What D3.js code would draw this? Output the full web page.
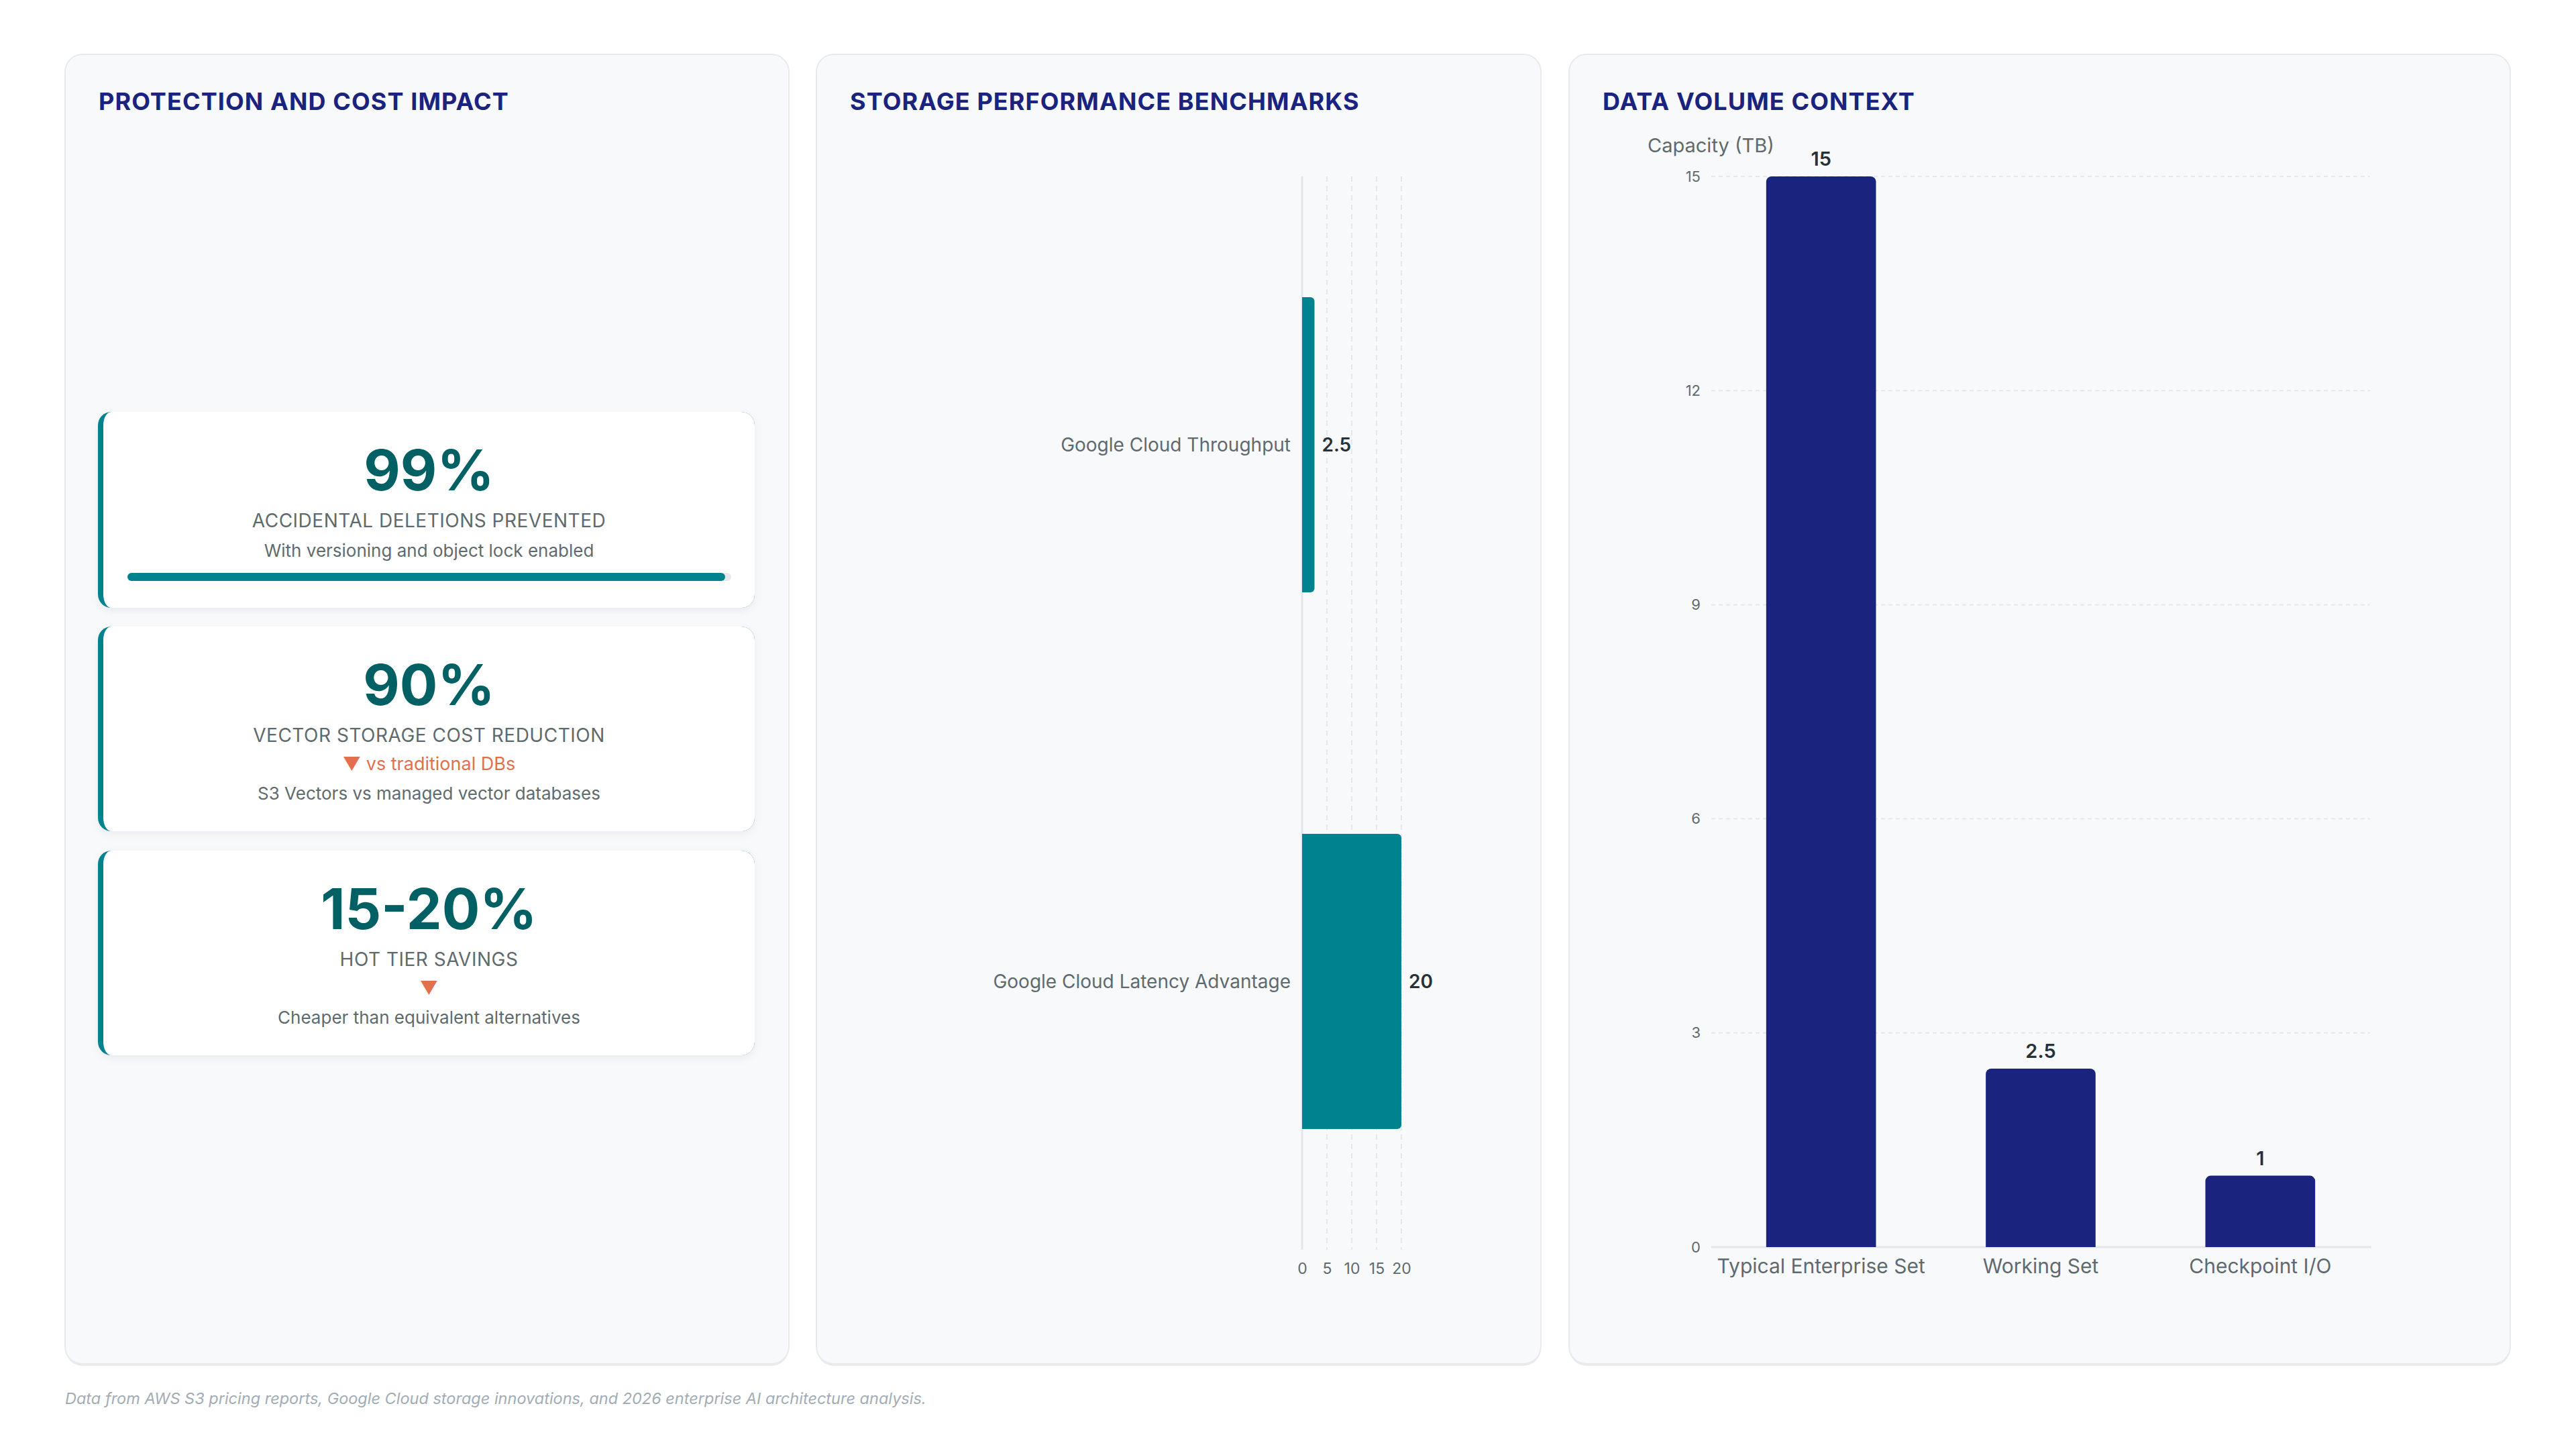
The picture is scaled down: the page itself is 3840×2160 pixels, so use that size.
<!DOCTYPE html>
<html>
<head>
<meta charset="utf-8">
<script src="https://cdn.jsdelivr.net/npm/d3@7"></script>
<style>
  html, body { margin: 0; padding: 0; background: #ffffff; }
  svg { display: block; font-family: Inter, "Noto Sans", sans-serif; }
</style>
</head>
<body>
<svg id="chart" width="3840" height="2160"></svg>
<script>
// ---- data ----
var panelTitles = ["PROTECTION AND COST IMPACT", "STORAGE PERFORMANCE BENCHMARKS", "DATA VOLUME CONTEXT"];

var kpiValues = ["99%", "90%", "15-20%"];
var kpiLabels = ["ACCIDENTAL DELETIONS PREVENTED", "VECTOR STORAGE COST REDUCTION", "HOT TIER SAVINGS"];
var kpiTrends = [null, "vs traditional DBs", ""];
var kpiNotes = ["With versioning and object lock enabled", "S3 Vectors vs managed vector databases", "Cheaper than equivalent alternatives"];
var kpiProgress = [99, null, null];

var perfCategories = ["Google Cloud Throughput", "Google Cloud Latency Advantage"];
var perfValues = [2.5, 20];
var perfTicks = [0, 5, 10, 15, 20];

var volumeCategories = ["Typical Enterprise Set", "Working Set", "Checkpoint I/O"];
var volumeValues = [15, 2.5, 1];
var volumeTicks = [0, 3, 6, 9, 12, 15];
var volumeAxisTitle = "Capacity (TB)";

var footnote = "Data from AWS S3 pricing reports, Google Cloud storage innovations, and 2026 enterprise AI architecture analysis.";

// ---- colours ----
var navy = "#1a237e", teal = "#00838f", tealDark = "#006064",
  gray = "#5f6a6e", dark = "#263238", coral = "#e2704f",
  grid = "#e6e8eb", panelBg = "#f8f9fb";

var svg = d3.select("#chart");
var defs = svg.append("defs");

var sh = defs.append("filter").attr("id", "cardShadow")
  .attr("x", "-5%").attr("y", "-10%").attr("width", "110%").attr("height", "130%");
sh.append("feDropShadow").attr("dx", 0).attr("dy", 4).attr("stdDeviation", 6)
  .attr("flood-color", "#1e293b").attr("flood-opacity", 0.06);

// rounded rect path, radii per corner [tl, tr, br, bl] each as [rx, ry]
function roundRect(x, y, w, h, r) {
  var tl = r[0], tr = r[1], br = r[2], bl = r[3];
  return "M" + (x + tl[0]) + "," + y +
    "H" + (x + w - tr[0]) +
    (tr[0] ? "A" + tr[0] + "," + tr[1] + " 0 0 1 " + (x + w) + "," + (y + tr[1]) : "") +
    "V" + (y + h - br[1]) +
    (br[0] ? "A" + br[0] + "," + br[1] + " 0 0 1 " + (x + w - br[0]) + "," + (y + h) : "") +
    "H" + (x + bl[0]) +
    (bl[0] ? "A" + bl[0] + "," + bl[1] + " 0 0 1 " + x + "," + (y + h - bl[1]) : "") +
    "V" + (y + tl[1]) +
    (tl[0] ? "A" + tl[0] + "," + tl[1] + " 0 0 1 " + (x + tl[0]) + "," + y : "") + "Z";
}

// ---- panels ----
var panels = [
  {x: 97, w: 1079},
  {x: 1217, w: 1080},
  {x: 2339, w: 1403}
];
var panelTop = 81, panelH = 1952;

panels.forEach(function (p, i) {
  svg.append("rect")
    .attr("x", p.x).attr("y", panelTop + 3).attr("width", p.w).attr("height", panelH)
    .attr("rx", 26).attr("fill", "#e8eaee");
  svg.append("rect")
    .attr("x", p.x).attr("y", panelTop).attr("width", p.w).attr("height", panelH)
    .attr("rx", 26).attr("fill", panelBg).attr("stroke", "#e8eaee").attr("stroke-width", 2);
  svg.append("text")
    .attr("x", p.x + 50).attr("y", 164)
    .attr("fill", navy).attr("font-size", 36).attr("font-weight", 700)
    .attr("letter-spacing", 1.1)
    .text(panelTitles[i]);
});

// ---- KPI cards ----
var cardX = 146, cardW = 979;
var cards = [
  {y: 614, h: 292, num: 731, label: 786, trend: null, note: 830, bar: 854},
  {y: 934, h: 305, num: 1051, label: 1106, trend: 1148, note: 1192},
  {y: 1268, h: 305, num: 1385, label: 1440, trend: 1482, note: 1526}
];
// content box starts after the 8px left border
var cx = cardX + 8 + (cardW - 8) / 2;

cards.forEach(function (c, i) {
  var g = svg.append("g");
  g.append("path")
    .attr("d", roundRect(cardX, c.y, cardW, c.h, [[20, 20], [20, 20], [20, 20], [20, 20]]))
    .attr("fill", teal).attr("filter", "url(#cardShadow)");
  g.append("path")
    .attr("d", roundRect(cardX + 8, c.y, cardW - 8, c.h, [[12, 20], [20, 20], [20, 20], [12, 20]]))
    .attr("fill", "#ffffff");

  g.append("text").attr("x", cx).attr("y", c.num)
    .attr("text-anchor", "middle").attr("fill", tealDark)
    .attr("font-size", 84).attr("font-weight", 700)
    .text(kpiValues[i]);
  g.append("text").attr("x", cx).attr("y", c.label)
    .attr("text-anchor", "middle").attr("fill", gray)
    .attr("font-size", 28).attr("letter-spacing", 0.5)
    .text(kpiLabels[i]);
  if (kpiTrends[i] !== null) {
    g.append("text").attr("x", cx).attr("y", c.trend)
      .attr("text-anchor", "middle").attr("fill", coral)
      .attr("font-size", 27)
      .text("▼" + (kpiTrends[i] ? " " + kpiTrends[i] : ""));
  }
  g.append("text").attr("x", cx).attr("y", c.note)
    .attr("text-anchor", "middle").attr("fill", gray)
    .attr("font-size", 26)
    .text(kpiNotes[i]);
  if (kpiProgress[i] !== null) {
    var px = d3.scaleLinear().domain([0, 100]).range([190, 1090]);
    g.append("rect").attr("x", px(0)).attr("y", c.bar).attr("width", px(100) - px(0))
      .attr("height", 12).attr("rx", 6).attr("fill", "#e5e8ec");
    g.append("rect").attr("x", px(0)).attr("y", c.bar).attr("width", px(kpiProgress[i]) - px(0))
      .attr("height", 12).attr("rx", 6).attr("fill", teal);
  }
});

// ---- storage performance (horizontal bars) ----
var perfX = d3.scaleLinear().domain([0, 20]).range([1941, 2089]);
var perfY = d3.scaleBand().domain(perfCategories).range([263, 1863])
  .paddingInner(0.45).paddingOuter(0.225);

var pg = svg.append("g");
pg.selectAll("line.grid").data(perfTicks.slice(1)).enter().append("line")
  .attr("x1", function (d) { return perfX(d); }).attr("x2", function (d) { return perfX(d); })
  .attr("y1", 263).attr("y2", 1863)
  .attr("stroke", grid).attr("stroke-width", 2).attr("stroke-dasharray", "8,6");
pg.append("line")
  .attr("x1", perfX(0)).attr("x2", perfX(0)).attr("y1", 263).attr("y2", 1863)
  .attr("stroke", "#e3e6ea").attr("stroke-width", 3);

pg.selectAll("path.bar").data(perfValues).enter().append("path")
  .attr("fill", teal)
  .attr("d", function (d, i) {
    var y = perfY(perfCategories[i]), w = perfX(d) - perfX(0);
    return roundRect(perfX(0), y, w, perfY.bandwidth(), [[0, 0], [6, 6], [6, 6], [0, 0]]);
  });

pg.selectAll("text.cat").data(perfCategories).enter().append("text")
  .attr("x", 1924).attr("y", function (d) { return perfY(d) + perfY.bandwidth() / 2; })
  .attr("dy", "0.35em").attr("text-anchor", "end")
  .attr("fill", gray).attr("font-size", 28)
  .text(function (d) { return d; });

pg.selectAll("text.val").data(perfValues).enter().append("text")
  .attr("x", function (d) { return perfX(d) + 11; })
  .attr("y", function (d, i) { return perfY(perfCategories[i]) + perfY.bandwidth() / 2; })
  .attr("dy", "0.35em").attr("fill", dark)
  .attr("font-size", 28).attr("font-weight", 600)
  .text(function (d) { return d; });

var perfAxis = pg.append("g").attr("transform", "translate(0,1863)")
  .call(d3.axisBottom(perfX).tickValues(perfTicks).tickSize(0).tickPadding(20));
perfAxis.select(".domain").remove();
perfAxis.selectAll("text").attr("fill", gray).attr("font-size", 23)
  .attr("font-family", "Inter, sans-serif");

// ---- data volume (vertical bars) ----
var volX = d3.scaleBand().domain(volumeCategories).range([2551, 3533])
  .paddingInner(0.5).paddingOuter(0.25);
var volY = d3.scaleLinear().domain([0, 15]).range([1859, 263]);

var vg = svg.append("g");
vg.selectAll("line.grid").data(volumeTicks.slice(1)).enter().append("line")
  .attr("x1", 2551).attr("x2", 3533)
  .attr("y1", function (d) { return volY(d); }).attr("y2", function (d) { return volY(d); })
  .attr("stroke", grid).attr("stroke-width", 2).attr("stroke-dasharray", "6,5");
vg.append("line")
  .attr("x1", 2551).attr("x2", 3535).attr("y1", volY(0)).attr("y2", volY(0))
  .attr("stroke", "#e3e6ea").attr("stroke-width", 3);

vg.selectAll("path.bar").data(volumeValues).enter().append("path")
  .attr("fill", navy)
  .attr("d", function (d, i) {
    var x = volX(volumeCategories[i]), y = volY(d);
    return roundRect(x, y, volX.bandwidth(), volY(0) - y, [[8, 8], [8, 8], [0, 0], [0, 0]]);
  });

vg.selectAll("text.val").data(volumeValues).enter().append("text")
  .attr("x", function (d, i) { return volX(volumeCategories[i]) + volX.bandwidth() / 2; })
  .attr("y", function (d) { return volY(d) - 16; })
  .attr("text-anchor", "middle").attr("fill", dark)
  .attr("font-size", 29).attr("font-weight", 600)
  .text(function (d) { return d; });

var volYAxis = vg.append("g").attr("transform", "translate(2551,0)")
  .call(d3.axisLeft(volY).tickValues(volumeTicks).tickSize(0).tickPadding(16));
volYAxis.select(".domain").remove();
volYAxis.selectAll("text").attr("fill", gray).attr("font-size", 22)
  .attr("font-family", "Inter, sans-serif");

var volXAxis = vg.append("g").attr("transform", "translate(0," + volY(0) + ")")
  .call(d3.axisBottom(volX).tickSize(0).tickPadding(18));
volXAxis.select(".domain").remove();
volXAxis.selectAll("text").attr("fill", gray).attr("font-size", 30)
  .attr("font-family", "Inter, sans-serif");

vg.append("text").attr("x", 2456).attr("y", 227)
  .attr("fill", gray).attr("font-size", 29)
  .text(volumeAxisTitle);

// ---- footnote ----
svg.append("text").attr("x", 97).attr("y", 2093)
  .attr("fill", "#a3acb5").attr("font-size", 23.5).attr("font-style", "italic")
  .text(footnote);
</script>
</body>
</html>
